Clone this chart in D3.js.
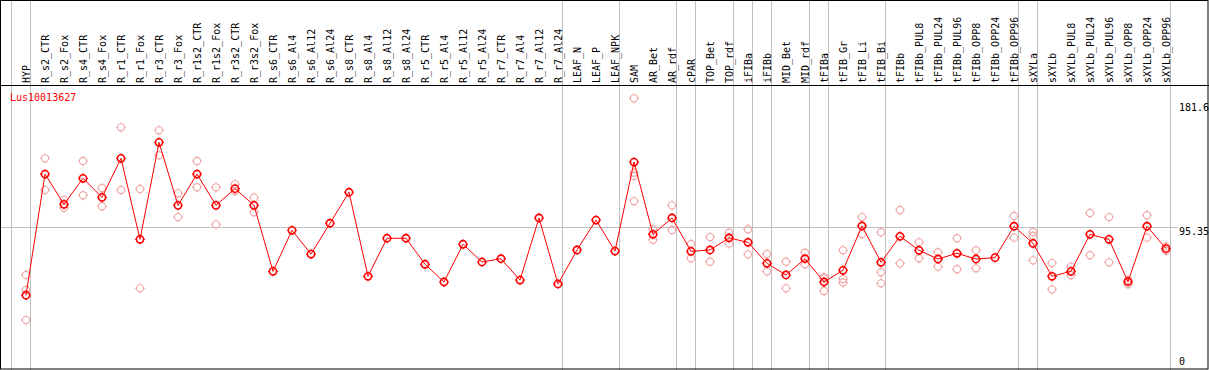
<!DOCTYPE html>
<html>
<head>
<meta charset="utf-8">
<script src="https://cdn.jsdelivr.net/npm/d3@7"></script>
<style>
  html, body { margin: 0; padding: 0; background: #fff; }
  svg { display: block; }
  text { font-family: "DejaVu Sans Mono", "Liberation Mono", monospace; font-size: 10px; }
</style>
</head>
<body>
<svg id="chart" width="1209" height="370"></svg>
<script>
const categories = ["HYP","R_s2_CTR","R_s2_Fox","R_s4_CTR","R_s4_Fox","R_r1_CTR","R_r1_Fox","R_r3_CTR","R_r3_Fox",
  "R_r1s2_CTR","R_r1s2_Fox","R_r3s2_CTR","R_r3s2_Fox","R_s6_CTR","R_s6_Al4","R_s6_Al12","R_s6_Al24",
  "R_s8_CTR","R_s8_Al4","R_s8_Al12","R_s8_Al24","R_r5_CTR","R_r5_Al4","R_r5_Al12","R_r5_Al24",
  "R_r7_CTR","R_r7_Al4","R_r7_Al12","R_r7_Al24","LEAF_N","LEAF_P","LEAF_NPK","SAM","AR_Bet","AR_rdf",
  "cPAR","TOP_Bet","TOP_rdf","iFIBa","iFIBb","MID_Bet","MID_rdf","tFIBa","tFIB_Gr","tFIB_Li","tFIB_Bi",
  "tFIBb","tFIBb_PUL8","tFIBb_PUL24","tFIBb_PUL96","tFIBb_OPP8","tFIBb_OPP24","tFIBb_OPP96",
  "sXYLa","sXYLb","sXYLb_PUL8","sXYLb_PUL24","sXYLb_PUL96","sXYLb_OPP8","sXYLb_OPP24","sXYLb_OPP96"];

const means = [50.4,131.0,110.9,128.2,115.5,141.5,87.6,152.1,110.2,131.0,110.2,121.3,110.2,66.3,93.6,77.8,98.3,
  118.9,63.0,88.3,88.3,71.0,59.2,84.3,72.5,74.7,60.5,101.8,57.9,80.5,100.4,79.8,139.0,90.9,101.8,
  79.6,80.5,88.5,85.6,71.6,63.9,74.7,59.2,67.0,96.5,72.3,89.6,80.3,74.5,78.3,74.5,75.4,96.3,
  84.9,63.0,66.3,90.9,87.6,59.4,96.3,81.4];

const replicates = [
  [63.9,53.9,33.9],[141.5,120.4],[113.8,108.6],[139.7,116.9],[121.7,109.6],[162.1,120.4],[121.1,55.0],
  [160.1,143.5],[118.2,102.4],[139.7,122.2],[122.2,97.6],[124.2,119.7],[115.3,105.6],
  [],[],[],[],[],[],[],[],[],[],[],[],[],[],[],[],[],[],[],
  [181.4,131.9,129.7,112.9],[94.3,87.3],[110.2,93.8],[84.5,75.0],[89.1,72.7],[92.0,84.7],[94.3,77.6],
  [77.8,66.3],[72.7,55.0],[78.7,71.0],[62.5,61.5,53.2],[80.3,61.2,58.9],[102.4,91.1],[92.3,65.7,58.3],
  [107.1,71.6],[85.6,75.0],[79.0,69.4],[88.3,67.7],[80.3,68.3],[],[103.1,88.7],
  [92.5,89.8,73.6],[71.8,54.3],[69.4,63.7],[105.1,77.0],[102.4,72.3],[60.5,57.7],[103.6,88.7],[82.7,80.0]];

// group separators: index of last column before each vertical rule (-1 = before first)
const separatorsAfter = [-1,0,28,31,34,35,37,38,39,41,42,45,52,53,60];
const axisTicks = [181.6, 95.35, 0];
const geneLabel = "Lus10013627";

const W = 1209, H = 370;
const svg = d3.select("#chart");
const x = d3.scalePoint().domain(categories).range([26, 1166]);
const y = d3.scaleLinear().domain([0, 181.6]).range([371, 98]);
const step = x.step();
const grey = "#c0c0c0";
const red = "#ff0000";
const pink = "#f2a6a6";

// vertical group rules
svg.append("g").selectAll("line").data(separatorsAfter).join("line")
  .attr("x1", d => Math.round((d < 0 ? x(categories[0]) - step : x(categories[d])) + 4) + 0.5)
  .attr("x2", d => Math.round((d < 0 ? x(categories[0]) - step : x(categories[d])) + 4) + 0.5)
  .attr("y1", 0).attr("y2", H)
  .attr("stroke", grey).attr("stroke-width", 1);

// middle horizontal rule
svg.append("line")
  .attr("x1", 0).attr("x2", 1177)
  .attr("y1", Math.floor(y(95.35)) + 0.5).attr("y2", Math.floor(y(95.35)) + 0.5)
  .attr("stroke", grey).attr("stroke-width", 1);

// frame and header separator
svg.append("rect").attr("x", 0.5).attr("y", 0.5).attr("width", W - 1.5).attr("height", H - 1.5)
  .attr("fill", "none").attr("stroke", "#000").attr("stroke-width", 1);
svg.append("line").attr("x1", 0).attr("x2", W).attr("y1", 85.5).attr("y2", 85.5)
  .attr("stroke", "#000").attr("stroke-width", 1);

// column labels
svg.append("g").selectAll("text").data(categories).join("text")
  .attr("transform", d => `translate(${x(d) + 3.5},83) rotate(-90)`)
  .attr("text-anchor", "start")
  .attr("fill", "#000")
  .text(d => d);

// axis tick labels (right)
svg.append("g").selectAll("text").data(axisTicks).join("text")
  .attr("x", 1179)
  .attr("y", d => Math.min(Math.max(y(d) + 7.5, 110.5), 365))
  .attr("fill", "#000")
  .text(d => String(d));

// gene label
svg.append("text").attr("x", 10).attr("y", 101).attr("fill", red).text(geneLabel);

function marker(g, color, sw) {
  g.append("circle").attr("r", 3.6).attr("fill", "none").attr("stroke", color).attr("stroke-width", sw);
  g.append("path").attr("d", "M0,-5V-3.5M0,3.5V5M-5,0H-3.5M3.5,0H5")
    .attr("stroke", color).attr("stroke-width", 1);
}

// replicate points
const repData = [];
replicates.forEach((arr, i) => arr.forEach(v => repData.push({c: categories[i], v})));
svg.append("g").selectAll("g").data(repData).join("g")
  .attr("transform", d => `translate(${x(d.c)},${y(d.v)})`)
  .each(function() { marker(d3.select(this), pink, 1.1); });

// mean line
const line = d3.line().x((d, i) => x(categories[i])).y(d => y(d));
svg.append("path").datum(means).attr("d", line)
  .attr("fill", "none").attr("stroke", red).attr("stroke-width", 1);

// mean points
svg.append("g").selectAll("g").data(means).join("g")
  .attr("transform", (d, i) => `translate(${x(categories[i])},${y(d)})`)
  .each(function() { marker(d3.select(this), red, 1.6); });
</script>
</body>
</html>
